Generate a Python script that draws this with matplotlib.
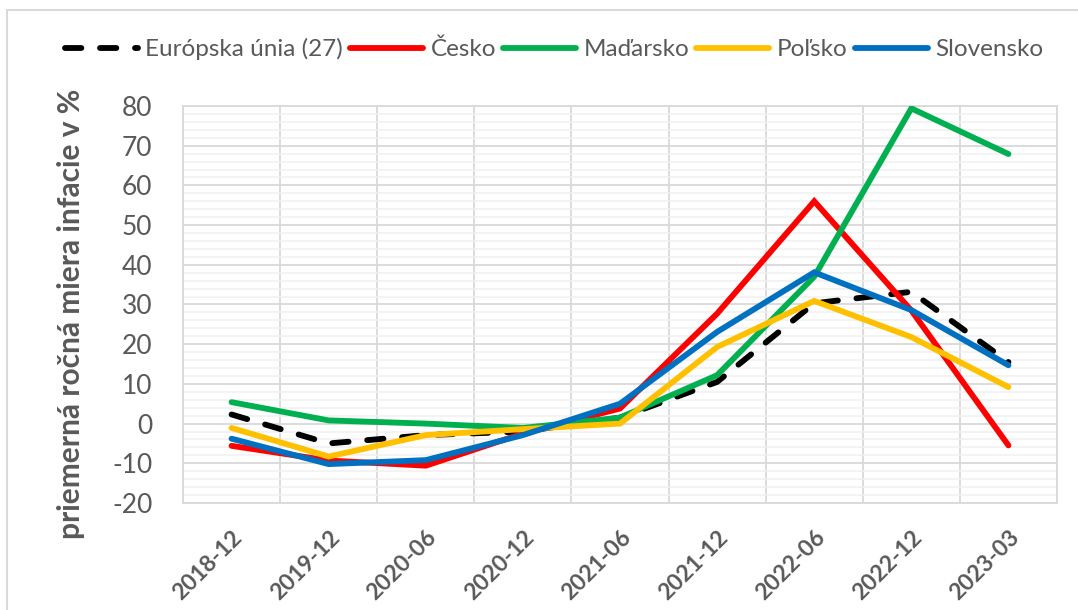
import matplotlib
matplotlib.use("Agg")
import matplotlib.pyplot as plt
from matplotlib.ticker import MultipleLocator, FixedLocator, NullFormatter
from matplotlib.patches import Rectangle

categories = ["2018-12", "2019-12", "2020-06", "2020-12", "2021-06",
              "2021-12", "2022-06", "2022-12", "2023-03"]
eu = [2.3, -5.0, -2.9, -2.0, 1.5, 10.5, 30.3, 33.2, 15.5]
cesko = [-5.6, -9.3, -10.6, -2.5, 3.8, 27.7, 56.0, 28.5, -5.5]
madarsko = [5.4, 0.8, 0.0, -1.1, 1.5, 12.2, 37.0, 79.4, 67.9]
polsko = [-1.1, -8.3, -2.9, -1.4, 0.0, 19.3, 30.9, 21.8, 9.2]
slovensko = [-3.8, -10.2, -9.2, -2.9, 5.0, 23.1, 38.1, 28.6, 14.7]

series_names = ["Európska únia (27)", "Česko", "Maďarsko", "Poľsko", "Slovensko"]
series_values = [eu, cesko, madarsko, polsko, slovensko]
colors = ["#000000", "#FF0000", "#00B050", "#FFC000", "#0070C0"]

plt.rcParams['font.family'] = ['Lato', 'DejaVu Sans']
plt.rcParams['axes.unicode_minus'] = False

fig = plt.figure(figsize=(10.78, 6.10), dpi=100)
fig.patches.append(Rectangle((7/1078, -0.05), 1.1, 1 - 10/610 + 0.05,
                             transform=fig.transFigure, fill=False,
                             edgecolor="#d9d9d9", linewidth=1.5))

ax = fig.add_axes([183/1078, 1 - 503/610, (1057 - 183)/1078, (503 - 106)/610])
x = list(range(len(categories)))

for name, vals, c in zip(series_names, series_values, colors):
    if name.startswith("Európska"):
        ax.plot(x, vals, color=c, lw=4.2, linestyle=(0, (2.8, 3.2)),
                dash_capstyle="round", solid_capstyle="round", label=name, zorder=3)
    else:
        ax.plot(x, vals, color=c, lw=4.2, solid_capstyle="round",
                solid_joinstyle="miter", label=name, zorder=3)

ax.set_xlim(-0.5, len(categories) - 0.5)
ax.set_ylim(-20, 80)
ax.yaxis.set_major_locator(MultipleLocator(10))
ax.yaxis.set_minor_locator(MultipleLocator(2))
ax.set_xticks(x)
ax.set_xticklabels(categories, rotation=45, ha="right", va="top",
                   rotation_mode="anchor", fontsize=16.5, fontweight="bold",
                   color="#595959")
ax.xaxis.set_minor_locator(FixedLocator([i - 0.5 for i in range(len(categories) + 1)]))
ax.xaxis.set_minor_formatter(NullFormatter())
ax.tick_params(axis="x", which="both", length=0, pad=17)
ax.tick_params(axis="y", which="both", length=0, pad=22, labelsize=19, labelcolor="#595959")

ax.grid(True, axis="y", which="major", color="#d9d9d9", lw=1.3, zorder=1)
ax.grid(True, axis="y", which="minor", color="#f0f0f0", lw=1.1, zorder=0)
ax.grid(True, axis="x", which="minor", color="#d9d9d9", lw=1.3, zorder=1)
ax.grid(False, axis="x", which="major")
ax.set_axisbelow(True)
for s in ax.spines.values():
    s.set_color("#d9d9d9")
    s.set_linewidth(1.3)

ax.set_ylabel("priemerná ročná miera infacie v %", fontsize=21.5, fontweight="bold",
              color="#595959")
ax.yaxis.set_label_coords(-98/874, 0.476)

leg = fig.legend(loc="center", bbox_to_anchor=(554/1078, 1 - 49/610), ncol=5,
                 frameon=False, fontsize=17.5, handlelength=3.0, handletextpad=0.3,
                 columnspacing=0.3, labelcolor="#595959")

fig.savefig("out.png", dpi=100)
